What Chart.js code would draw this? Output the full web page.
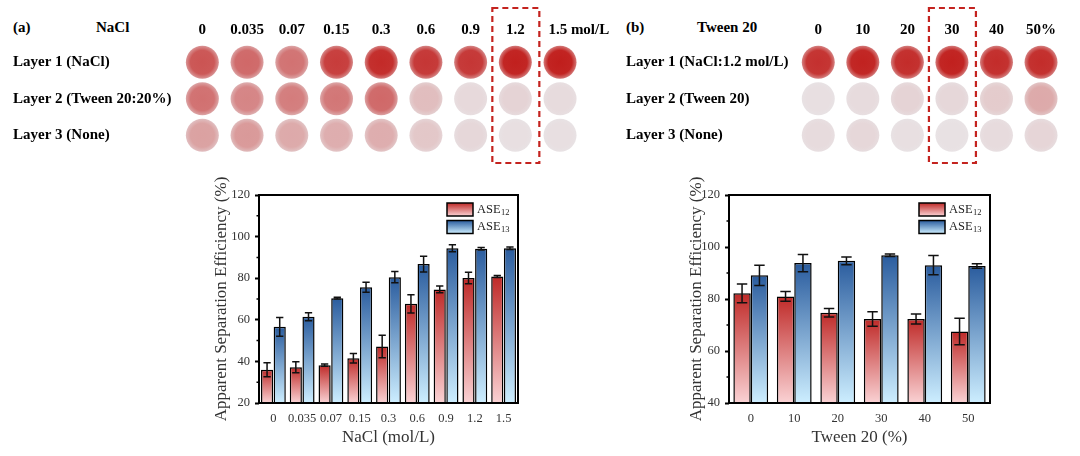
<!DOCTYPE html>
<html>
<head>
<meta charset="utf-8">
<script src="https://cdn.jsdelivr.net/npm/chart.js@4.4.0/dist/chart.umd.min.js"></script>
<style>
    html, body { margin: 0; padding: 0; background: #fff; }
    body { width: 1080px; height: 456px; position: relative; overflow: hidden;
           font-family: 'Liberation Serif', 'Times New Roman', serif; }
    .box { position: absolute; }
    .tag { position: absolute; font-weight: bold; font-size: 15px; line-height: 1; color: #000; }
</style>
</head>
<body>
<div class="tag" style="left:13px; top:20px;">(a)</div>
<div class="tag" style="left:96px; top:20px;">NaCl</div>
<div class="tag" style="left:626px; top:20px;">(b)</div>
<div class="tag" style="left:697px; top:20px;">Tween 20</div>

<div class="box" style="left:600px; top:0; width:480px; height:170px;"><canvas id="fotoB"></canvas></div>
<div class="box" style="left:0; top:0; width:625px; height:170px;"><canvas id="fotoA"></canvas></div>
<div class="box" style="left:200px; top:172px; width:330px; height:284px;"><canvas id="barrasA"></canvas></div>
<div class="box" style="left:675px; top:172px; width:325px; height:284px;"><canvas id="barrasB"></canvas></div>

<script>
// ------------------------------------------------------------
// Datos
// ------------------------------------------------------------
const naclLabels = ['0', '0.035', '0.07', '0.15', '0.3', '0.6', '0.9', '1.2', '1.5'];
const tweenLabels = ['0', '10', '20', '30', '40', '50'];

const layersA = ['Layer 1 (NaCl)', 'Layer 2 (Tween 20:20%)', 'Layer 3 (None)'];
const layersB = ['Layer 1 (NaCl:1.2 mol/L)', 'Layer 2 (Tween 20)', 'Layer 3 (None)'];

// intensidad de tinción de cada disco (0 = papel limpio, 1 = rojo saturado)
const stainA1 = [0.72, 0.62, 0.57, 0.84, 0.93, 0.87, 0.87, 0.98, 0.99];
const stainA2 = [0.58, 0.48, 0.52, 0.55, 0.62, 0.2, 0.06, 0.09, 0.05];
const stainA3 = [0.34, 0.38, 0.3, 0.28, 0.28, 0.15, 0.07, 0.03, 0.03];
const stainB1 = [0.9, 0.97, 0.92, 0.98, 0.92, 0.92];
const stainB2 = [0.03, 0.05, 0.09, 0.07, 0.13, 0.3];
const stainB3 = [0.05, 0.07, 0.03, 0.02, 0.05, 0.08];

const bestNaCl = '1.2';
const bestTween = '30';

// eficiencias (%) y desviaciones
const ase12A = [36, 37.2, 38.2, 41.5, 47.2, 67.7, 74.6, 80.1, 80.8];
const ase12AErr = [3.4, 2.6, 0.5, 2.3, 5.4, 4.4, 1.6, 2.8, 0.5];
const ase13A = [56.6, 61.5, 70.4, 75.6, 80.5, 86.8, 94.4, 94.2, 94.4];
const ase13AErr = [4.5, 1.9, 0.4, 2.4, 2.7, 3.8, 1.7, 0.6, 0.6];

const ase12B = [82.2, 81, 74.7, 72.3, 72.3, 67.5];
const ase12BErr = [3.6, 1.9, 1.6, 2.8, 1.9, 5.1];
const ase13B = [89.1, 93.8, 94.7, 96.8, 93, 92.7];
const ase13BErr = [3.9, 3.3, 1.5, 0.5, 3.7, 0.9];

// ------------------------------------------------------------
// Estilo
// ------------------------------------------------------------
const SERIF = "'Liberation Serif', 'Times New Roman', serif";
const RED = { top: '#bf2a28', bottom: '#fad2d4' };
const BLUE = { top: '#2a5c9e', bottom: '#cdeeff' };
const TXT = '#333333';

Chart.defaults.font.family = SERIF;
Chart.defaults.animation = false;
Chart.defaults.events = [];
Chart.defaults.plugins.legend.display = false;
Chart.defaults.plugins.tooltip.enabled = false;

function mix(k) {
    const paper = [233, 229, 231], dye = [192, 28, 26];
    return 'rgb(' + paper.map((p, j) => Math.round(p + (dye[j] - p) * k)).join(',') + ')';
}

// ------------------------------------------------------------
// Plugins
// ------------------------------------------------------------
const dashedBox = {
    id: 'dashedBox',
    afterDraw(chart, args, opts) {
        const x = chart.scales.x.getPixelForValue(opts.index);
        const ctx = chart.ctx;
        ctx.save();
        ctx.strokeStyle = '#c4231f';
        ctx.lineWidth = 2.2;
        ctx.setLineDash([6, 4]);
        ctx.strokeRect(x - 23, 8, 47, 155);
        ctx.restore();
    }
};

const errorBars = {
    id: 'errorBars',
    afterDatasetsDraw(chart) {
        const ctx = chart.ctx, y = chart.scales.y;
        chart.data.datasets.forEach((ds, di) => {
            chart.getDatasetMeta(di).data.forEach((bar, i) => {
                const v = ds.data[i], e = ds.errors[i];
                const cap = bar.width * 0.3;
                const hi = y.getPixelForValue(v + e), lo = y.getPixelForValue(v - e);
                ctx.save();
                ctx.strokeStyle = '#111';
                ctx.lineWidth = 1.5;
                ctx.beginPath();
                ctx.moveTo(bar.x, hi); ctx.lineTo(bar.x, lo);
                ctx.moveTo(bar.x - cap, hi); ctx.lineTo(bar.x + cap, hi);
                ctx.moveTo(bar.x - cap, lo); ctx.lineTo(bar.x + cap, lo);
                ctx.stroke();
                ctx.restore();
            });
        });
    }
};

// marco completo + marcas menores del eje Y
const frame = {
    id: 'frame',
    afterDraw(chart) {
        const { ctx, chartArea: a, scales } = chart;
        const y = scales.y;
        ctx.save();
        ctx.strokeStyle = '#000';
        ctx.lineWidth = 2;
        ctx.strokeRect(a.left, a.top, a.right - a.left, a.bottom - a.top);
        ctx.lineWidth = 1.5;
        ctx.beginPath();
        for (let v = y.min + 10; v < y.max; v += 20) {
            const py = y.getPixelForValue(v);
            ctx.moveTo(a.left - 2.5, py);
            ctx.lineTo(a.left, py);
        }
        ctx.stroke();
        ctx.restore();
    }
};

const legendInside = {
    id: 'legendInside',
    afterDraw(chart) {
        const { ctx, chartArea: a } = chart;
        chart.data.datasets.forEach((ds, i) => {
            const bx = a.right - 71, by = a.top + 8 + i * 17.5, w = 26, h = 13;
            const g = ctx.createLinearGradient(0, by, 0, by + h);
            g.addColorStop(0, ds.pal.top);
            g.addColorStop(1, ds.pal.bottom);
            ctx.save();
            ctx.fillStyle = g;
            ctx.fillRect(bx, by, w, h);
            ctx.strokeStyle = '#000';
            ctx.lineWidth = 1.5;
            ctx.strokeRect(bx, by, w, h);
            ctx.fillStyle = '#222';
            ctx.textBaseline = 'middle';
            ctx.font = '12.5px ' + SERIF;
            ctx.fillText(ds.label, bx + w + 4, by + h / 2);
            const tw = ctx.measureText(ds.label).width;
            ctx.font = '8.5px ' + SERIF;
            ctx.fillText(ds.sub, bx + w + 4.5 + tw, by + h / 2 + 3);
            ctx.restore();
        });
    }
};

// sin margen extra por etiquetas largas en los extremos del eje X
const noEdgePad = s => { s.paddingLeft = 0; s.paddingRight = 0; };

// ------------------------------------------------------------
// Discos teñidos (bubble sobre ejes de categorías)
// ------------------------------------------------------------
function initFotos(id, cols, layers, stains, unit, best, yWidth, pad) {
    const discFill = ctx => {
        if (ctx.type !== 'data') return mix(0.5);
        const k = stains[ctx.datasetIndex][ctx.dataIndex];
        const chart = ctx.chart;
        if (!ctx.parsed || !chart.chartArea || !chart.scales.x || !chart.scales.y) return mix(k);
        const cx = chart.scales.x.getPixelForValue(ctx.parsed.x);
        const cy = chart.scales.y.getPixelForValue(ctx.parsed.y);
        if (!isFinite(cx) || !isFinite(cy)) return mix(k);
        const g = chart.ctx.createRadialGradient(cx, cy, 0, cx, cy, 16.5);
        g.addColorStop(0, mix(k));
        g.addColorStop(0.72, mix(k * 0.97));
        g.addColorStop(1, mix(k * 0.55));
        return g;
    };
    new Chart(document.getElementById(id), {
        type: 'bubble',
        data: {
            datasets: layers.map(layer => ({
                label: layer,
                data: cols.map(c => ({ x: c, y: layer })),
                radius: 16.5,
                borderWidth: 0,
                backgroundColor: discFill,
            }))
        },
        options: {
            responsive: true,
            maintainAspectRatio: false,
            layout: { padding: pad },
            plugins: { dashedBox: { index: cols.indexOf(best) } },
            scales: {
                x: {
                    type: 'category', labels: cols, position: 'top', offset: true,
                    grid: { display: false }, border: { display: false },
                    afterFit: s => { s.height = 44; noEdgePad(s); },
                    ticks: {
                        padding: -3, color: '#000', font: { size: 15, weight: 'bold' },
                        maxRotation: 0, autoSkip: false,
                        callback: (v, i) => i === cols.length - 1 ? unit.pad + cols[i] + unit.text : cols[i]
                    }
                },
                y: {
                    type: 'category', labels: layers, offset: true,
                    grid: { display: false }, border: { display: false },
                    afterFit: s => { s.width = yWidth; },
                    ticks: { crossAlign: 'far', color: '#000', font: { size: 15, weight: 'bold' }, autoSkip: false }
                }
            }
        },
        plugins: [dashedBox]
    });
}

// ------------------------------------------------------------
// Gráfico de barras con degradado y barras de error
// ------------------------------------------------------------
function barFill(pal) {
    return ctx => {
        const chart = ctx.chart, a = chart.chartArea;
        if (!a || ctx.type !== 'data' || !chart.scales.y) return pal.top;
        const yTop = chart.scales.y.getPixelForValue(ctx.raw);
        if (!isFinite(yTop)) return pal.top;
        const g = chart.ctx.createLinearGradient(0, yTop, 0, a.bottom);
        g.addColorStop(0, pal.top);
        g.addColorStop(1, pal.bottom);
        return g;
    };
}

function initBarras(id, labels, d12, e12, d13, e13, yMin, xTitle, yWidth, padRight, catPct, barPct) {
    const serie = (sub, data, errors, pal) => ({
        label: 'ASE', sub, data, errors, pal,
        backgroundColor: barFill(pal),
        borderColor: '#000',
        borderWidth: 1.5,
        borderSkipped: false,
        categoryPercentage: catPct,
        barPercentage: barPct,
    });
    new Chart(document.getElementById(id), {
        type: 'bar',
        data: {
            labels,
            datasets: [serie('12', d12, e12, RED), serie('13', d13, e13, BLUE)]
        },
        options: {
            responsive: true,
            maintainAspectRatio: false,
            layout: { padding: { top: 23, right: padRight, left: 0, bottom: 0 } },
            scales: {
                x: {
                    grid: { display: false }, border: { display: false },
                    afterFit: s => { s.height = 53; noEdgePad(s); },
                    ticks: { padding: 0, color: TXT, font: { size: 12.5 }, maxRotation: 0, autoSkip: false },
                    title: { display: true, text: xTitle, color: TXT, font: { size: 17 }, padding: { top: 0, bottom: 8 } }
                },
                y: {
                    min: yMin, max: 120,
                    border: { display: false },
                    grid: { drawOnChartArea: false, drawTicks: true, tickLength: 4, tickWidth: 2, tickColor: '#000' },
                    afterFit: s => { s.width = yWidth; },
                    ticks: { stepSize: 20, padding: 5, color: TXT, font: { size: 12.5 } },
                    title: { display: true, text: 'Apparent Separation Efficiency (%)', color: TXT, font: { size: 17 }, padding: { top: 11.8, bottom: 0 } }
                }
            }
        },
        plugins: [errorBars, frame, legendInside]
    });
}

function init() {
    const tareas = [
        () => initBarras('barrasA', naclLabels, ase12A, ase12AErr, ase13A, ase13AErr, 20, 'NaCl (mol/L)', 59, 12, 0.88, 0.96),
        () => initBarras('barrasB', tweenLabels, ase12B, ase12BErr, ase13B, ase13BErr, 40, 'Tween 20 (%)', 54, 10, 0.8, 1.0),
        () => initFotos('fotoA', naclLabels, layersA, [stainA1, stainA2, stainA3],
            { pad: '\u00A0'.repeat(10), text: ' mol/L' }, bestNaCl, 167, { left: 13, right: 42.6, top: 0, bottom: 10 }),
        () => initFotos('fotoB', tweenLabels, layersB, [stainB1, stainB2, stainB3],
            { pad: '', text: '%' }, bestTween, 170, { left: 26, right: 16.7, top: 0, bottom: 10 }),
    ];
    tareas.forEach(t => { try { t(); } catch (e) { console.error(e); } });
}

document.addEventListener('DOMContentLoaded', init);
</script>
</body>
</html>
